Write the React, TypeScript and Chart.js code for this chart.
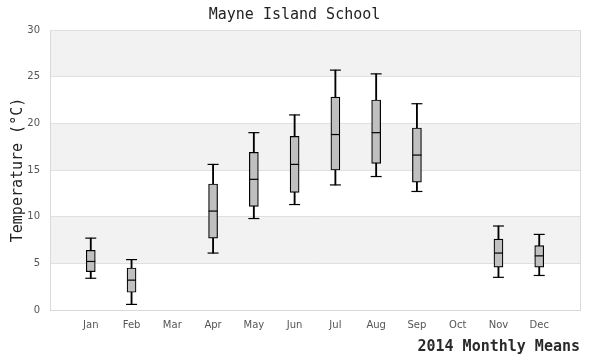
import React, { useEffect, useRef } from "react";
import { Chart, registerables } from "chart.js";

Chart.register(...registerables);

const months = ["Jan", "Feb", "Mar", "Apr", "May", "Jun", "Jul", "Aug", "Sep", "Oct", "Nov", "Dec"];
const whiskerMin = [3.4, 0.6, null, 6.1, 9.8, 11.3, 13.4, 14.3, 12.7, null, 3.5, 3.7];
const q1 = [4.1, 1.9, null, 7.7, 11.1, 12.6, 15.0, 15.7, 13.7, null, 4.6, 4.6];
const median = [5.2, 3.2, null, 10.6, 14.0, 15.6, 18.8, 19.0, 16.6, null, 6.1, 5.8];
const q3 = [6.4, 4.5, null, 13.5, 16.9, 18.6, 22.8, 22.5, 19.5, null, 7.6, 6.9];
const whiskerMax = [7.7, 5.4, null, 15.6, 19.0, 20.9, 25.7, 25.3, 22.1, null, 9.0, 8.1];
const yTicks = [0, 5, 10, 15, 20, 25, 30];
const shadedBands = [[5, 10], [15, 20], [25, 30]];

const present = months.map((_, i) => i).filter((i) => q1[i] !== null);

const bandPlugin = {
  id: "bands",
  beforeDraw(chart: any) {
    const { ctx, chartArea, scales } = chart;
    const y = scales.y;
    ctx.save();
    ctx.fillStyle = "#f2f2f2";
    for (const [a, b] of shadedBands) {
      const top = y.getPixelForValue(b);
      const bot = y.getPixelForValue(a);
      ctx.fillRect(chartArea.left, top, chartArea.right - chartArea.left, bot - top);
    }
    ctx.restore();
  },
  afterDraw(chart: any) {
    const { ctx, chartArea } = chart;
    ctx.save();
    ctx.strokeStyle = "#d9d9d9";
    ctx.lineWidth = 1;
    ctx.beginPath();
    ctx.moveTo(Math.round(chartArea.right) + 0.5, chartArea.top);
    ctx.lineTo(Math.round(chartArea.right) + 0.5, chartArea.bottom);
    ctx.stroke();
    ctx.restore();
  },
};

export default function App() {
  const ref = useRef<HTMLCanvasElement>(null);
  useEffect(() => {
    document.body.style.margin = "0";
    const chart = new Chart(ref.current as HTMLCanvasElement, {
      type: "bar",
      data: {
        datasets: [
          {
            type: "scatter",
            data: present.map((i) => ({ x: i + 1, y: median[i] })),
            pointStyle: "line",
            radius: 4.5,
            borderColor: "#000",
            borderWidth: 1.2,
            order: 0,
          } as any,
          {
            type: "scatter",
            data: present.flatMap((i) => [
              { x: i + 1, y: whiskerMin[i] },
              { x: i + 1, y: whiskerMax[i] },
            ]),
            pointStyle: "line",
            radius: 5.5,
            borderColor: "#000",
            borderWidth: 1.2,
            order: 1,
          } as any,
          {
            type: "bar",
            data: present.map((i) => ({ x: i + 1, y: [q1[i], q3[i]] })),
            backgroundColor: "#c0c0c0",
            borderColor: "#000",
            borderWidth: 1.2,
            borderSkipped: false,
            barThickness: 9,
            grouped: false,
            order: 2,
          } as any,
          {
            type: "bar",
            data: present.map((i) => ({ x: i + 1, y: [whiskerMin[i], whiskerMax[i]] })),
            backgroundColor: "#000",
            borderWidth: 0,
            barThickness: 1.2,
            grouped: false,
            order: 3,
          } as any,
        ],
      },
      options: {
        responsive: false,
        animation: false,
        events: [],
        layout: { padding: { left: 9, right: 20, top: 0, bottom: 0 } },
        plugins: {
          legend: { display: false },
          tooltip: { enabled: false },
          title: {
            display: true,
            text: "Mayne Island School",
            color: "#222",
            font: { family: "'DejaVu Sans Mono', monospace", size: 15, weight: "normal" },
            padding: { top: 6, bottom: 6 },
          },
        },
        scales: {
          x: {
            type: "linear",
            min: 0,
            max: 13,
            offset: false,
            afterBuildTicks: (axis: any) => {
              axis.ticks = months.map((_, i) => ({ value: i + 1 }));
            },
            afterFit: (axis: any) => {
              axis.height = 50;
              axis.paddingLeft = 0;
              axis.paddingRight = 0;
            },
            ticks: {
              callback: (v: any) => months[Number(v) - 1] ?? "",
              color: "#555",
              font: { family: "'DejaVu Sans', sans-serif", size: 10 },
              padding: 9,
              maxRotation: 0,
              autoSkip: false,
            },
            grid: { display: false, drawTicks: false },
            border: { display: true, color: "#d9d9d9" },
            title: {
              display: true,
              text: "2014 Monthly Means",
              align: "end",
              color: "#2a2a2a",
              font: { family: "'DejaVu Sans Mono', monospace", size: 15, weight: "bold" },
              padding: { top: 0, bottom: 4 },
            },
          },
          y: {
            min: 0,
            max: 30,
            afterBuildTicks: (axis: any) => {
              axis.ticks = yTicks.map((v) => ({ value: v }));
            },
            afterFit: (axis: any) => {
              axis.width = 41;
            },
            ticks: {
              color: "#555",
              font: { family: "'DejaVu Sans', sans-serif", size: 10 },
              padding: 10,
            },
            grid: { color: "#e0e0e0", drawTicks: false },
            border: { display: true, color: "#d9d9d9" },
            title: {
              display: true,
              text: "Temperature (°C)",
              color: "#222",
              font: { family: "'DejaVu Sans Mono', monospace", size: 15, weight: "normal" },
              padding: { top: 0, bottom: 0 },
            },
          },
        },
      } as any,
      plugins: [bandPlugin],
    });
    return () => chart.destroy();
  }, []);
  return (
    <div style={{ width: 600, height: 360 }}>
      <canvas ref={ref} width={600} height={360} />
    </div>
  );
}
